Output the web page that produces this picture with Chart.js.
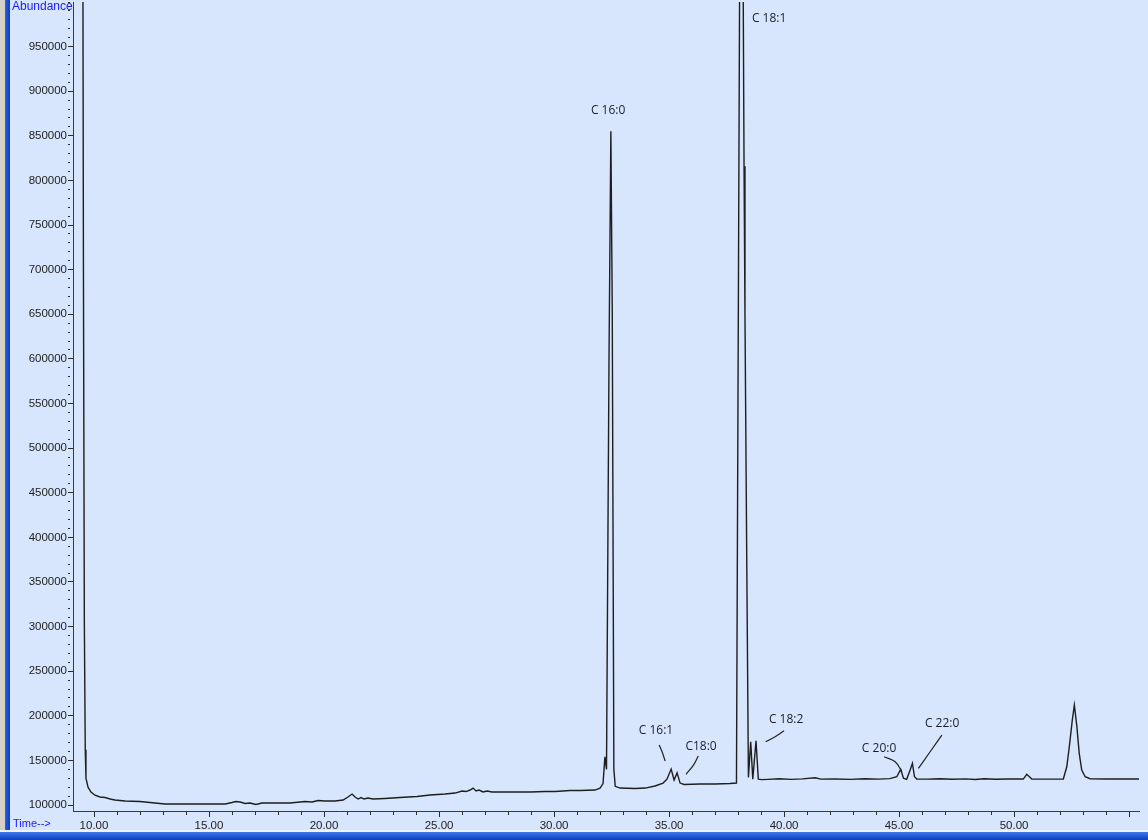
<!DOCTYPE html>
<html>
<head>
<meta charset="utf-8">
<script src="https://cdn.jsdelivr.net/npm/chart.js@4.4.1/dist/chart.umd.min.js"></script>
<style>
  html, body { margin: 0; padding: 0; }
  body { width: 1148px; height: 840px; overflow: hidden; background: #d7e6fd; position: relative; }
  #tic { position: absolute; left: 0; top: 0; }
  .frameL1 { position: absolute; left: 0; top: 0; width: 5px; height: 840px; background: #d4d0c8; }
  .frameL2 { position: absolute; left: 5px; top: 0; width: 5px; height: 840px; background: linear-gradient(90deg, #2a5fe0, #0b3cc4); }
  .frameB1 { position: absolute; left: 0; top: 830px; width: 1148px; height: 2px; background: #eef3fb; }
  .frameB2 { position: absolute; left: 0; top: 832px; width: 1148px; height: 8px; background: linear-gradient(180deg, #3f78ea, #0a3fc2); }
  .axlabel { position: absolute; color: #1a1aff; font-family: "Liberation Sans", sans-serif; white-space: nowrap; }
</style>
</head>
<body>
<canvas id="tic" width="1148" height="840"></canvas>
<div class="axlabel" style="left:12px; top:-1px; font-size:12px;">Abundance</div>
<div class="axlabel" style="left:13px; top:817px; font-size:11px;">Time--&gt;</div>
<div class="frameL1"></div>
<div class="frameL2"></div>
<div class="frameB1"></div>
<div class="frameB2"></div>
<script>
// retention time (min) and abundance
const timeMin = [9.48, 9.50, 9.54, 9.58, 9.62, 9.65, 9.74, 9.87, 10.04, 10.26,
  10.48, 10.70, 10.91, 11.35, 12.00, 12.65, 13.09, 14.17, 15.70, 16.00,
  16.17, 16.35, 16.57, 16.78, 17.04, 17.30, 17.87, 18.52, 18.96, 19.17,
  19.48, 19.74, 20.04, 20.48, 20.83, 21.04, 21.22, 21.35, 21.48, 21.61,
  21.74, 21.91, 22.13, 22.65, 23.30, 24.04, 24.61, 25.26, 25.70, 26.00,
  26.17, 26.35, 26.48, 26.61, 26.74, 26.91, 27.09, 27.30, 28.09, 28.96,
  29.61, 30.04, 30.70, 31.13, 31.78, 32.00, 32.13, 32.21, 32.28, 32.39,
  32.47, 32.53, 32.60, 32.66, 32.87, 33.52, 33.96, 34.39, 34.74, 34.91,
  35.09, 35.22, 35.35, 35.48, 35.65, 36.35, 37.00, 37.65, 37.93, 38.02,
  38.11, 38.17, 38.26, 38.30, 38.37, 38.45, 38.55, 38.64, 38.78, 38.88,
  39.03, 39.30, 39.80, 40.30, 40.80, 41.35, 41.60, 42.20, 42.90, 43.50,
  44.10, 44.60, 44.90, 45.07, 45.19, 45.33, 45.48, 45.58, 45.67, 45.77,
  46.20, 46.80, 47.30, 47.90, 48.30, 48.70, 49.20, 49.70, 50.40, 50.55,
  50.77, 51.50, 52.14, 52.29, 52.40, 52.53, 52.62, 52.73, 52.83, 52.94,
  53.09, 53.30, 54.00, 55.43];
const abundance = [1400000, 1300000, 709000, 305000, 162000, 130000, 120000, 114500, 111000, 109000,
  108400, 106700, 105600, 104500, 104000, 102200, 101100, 101100, 101100, 102800,
  104000, 103400, 101700, 102200, 100600, 102200, 102200, 102200, 103400, 104000,
  103400, 105000, 104500, 104500, 105600, 109000, 112300, 109000, 106700, 108400,
  106700, 107800, 106700, 107300, 108400, 109500, 111200, 112300, 113400, 115700,
  115100, 116800, 119000, 115700, 116800, 114600, 115700, 114600, 114600, 114600,
  115100, 115100, 116200, 116200, 116800, 119000, 124000, 154000, 140000, 604000,
  855000, 656000, 140000, 121000, 119000, 118500, 119000, 121300, 124600, 129000,
  140300, 128000, 136000, 124600, 123000, 123500, 123500, 124100, 124600, 708000,
  1300000, 1300000, 816000, 650000, 400000, 131000, 171000, 129000, 172000, 129000,
  128500, 128800, 129500, 128700, 129300, 130500, 129000, 129200, 128800, 129400,
  129000, 129600, 131700, 140000, 130000, 128800, 139200, 146700, 131700, 129100,
  129000, 129400, 128900, 129300, 128600, 129500, 128900, 129100, 129100, 134400,
  129100, 129000, 129100, 142900, 165300, 195200, 212000, 187700, 158200, 139200,
  131700, 129500, 129100, 129100];

// peak names and where their text sits
const peakNames = ['C 16:0', 'C 18:1', 'C 16:1', 'C18:0', 'C 18:2', 'C 20:0', 'C 22:0'];
const peakLabelT = [32.35, 39.35, 34.43, 36.39, 40.09, 44.13, 46.87];
const peakLabelV = [878400, 981400, 182900, 165000, 196300, 162700, 191800];

// small hand-drawn leader strokes (3 points each)
const leaderT = [
  [34.57, 34.70, 34.83],
  [36.27, 36.06, 35.74],
  [40.00, 39.61, 39.20],
  [44.35, 44.83, 45.12],
  [46.86, 46.35, 45.84]
];
const leaderV = [
  [167200, 159400, 149300],
  [154900, 144800, 134400],
  [183200, 176500, 170900],
  [154100, 148500, 137300],
  [178400, 159700, 141100]
];

// axis ticks
const xTicks = [];
for (let m = 10; m <= 55; m++) xTicks.push(m);
const xLabelled = [10, 15, 20, 25, 30, 35, 40, 45, 50];
const yTicks = [];
for (let a = 100000; a <= 1000000; a += 10000) yTicks.push(a);
const yLabelled = [100000, 150000, 200000, 250000, 300000, 350000, 400000, 450000, 500000,
  550000, 600000, 650000, 700000, 750000, 800000, 850000, 900000, 950000];

const traceData = timeMin.map((t, i) => ({x: t, y: abundance[i]}));
const datasets = [{
  data: traceData,
  borderColor: '#1e1e1e',
  borderWidth: 1.4,
  pointRadius: 0,
  tension: 0
}];
leaderT.forEach((ts, k) => {
  datasets.push({
    data: ts.map((t, i) => ({x: t, y: leaderV[k][i]})),
    borderColor: '#222',
    borderWidth: 1.2,
    pointRadius: 0,
    tension: 0.4
  });
});

const peakText = {
  id: 'peakText',
  afterDatasetsDraw(chart) {
    const c = chart.ctx;
    const xs = chart.scales.x, ys = chart.scales.y;
    c.save();
    c.font = '12px "Open Sans"';
    c.fillStyle = '#1c1c28';
    c.textAlign = 'center';
    c.textBaseline = 'middle';
    peakNames.forEach((name, i) => {
      c.fillText(name, xs.getPixelForValue(peakLabelT[i]), ys.getPixelForValue(peakLabelV[i]));
    });
    c.restore();
  }
};

const tickFont = {family: 'Liberation Sans', size: 11.5};

new Chart(document.getElementById('tic'), {
  type: 'line',
  data: {datasets},
  options: {
    responsive: false,
    animation: false,
    devicePixelRatio: 1,
    layout: {padding: {left: 0, right: 9, top: 2, bottom: 0}},
    plugins: {legend: {display: false}, tooltip: {enabled: false}},
    scales: {
      x: {
        type: 'linear',
        min: 9.087,
        max: 55.43,
        afterBuildTicks(scale) { scale.ticks = xTicks.map(v => ({value: v})); },
        afterFit(scale) { scale.height = 29; scale.paddingLeft = 0; scale.paddingRight = 0; },
        border: {display: true, color: '#3a3a3a', width: 1},
        grid: {
          drawOnChartArea: false,
          drawTicks: true,
          tickLength: 6,
          tickColor: '#2a2a2a',
          tickBorderDash: ctx => (xLabelled.includes(ctx.tick && ctx.tick.value) || (ctx.tick && ctx.tick.value === 55)) ? [] : [3, 40]
        },
        ticks: {
          autoSkip: false,
          maxRotation: 0,
          minRotation: 0,
          padding: 2,
          color: '#222',
          font: tickFont,
          callback: v => xLabelled.includes(v) ? v.toFixed(2) : ''
        }
      },
      y: {
        type: 'linear',
        min: 93300,
        max: 1000000,
        afterBuildTicks(scale) { scale.ticks = yTicks.map(v => ({value: v})); },
        afterFit(scale) { scale.width = 73; scale.paddingTop = 0; scale.paddingBottom = 0; },
        border: {display: true, color: '#3a3a3a', width: 1},
        grid: {
          drawOnChartArea: false,
          drawTicks: true,
          tickLength: 5,
          tickColor: '#2a2a2a',
          tickBorderDash: ctx => yLabelled.includes(ctx.tick && ctx.tick.value) ? [] : [2, 40]
        },
        ticks: {
          autoSkip: false,
          padding: 1,
          color: '#222',
          font: tickFont,
          callback: v => yLabelled.includes(v) ? String(v) : ''
        }
      }
    }
  },
  plugins: [peakText]
});
</script>
</body>
</html>
